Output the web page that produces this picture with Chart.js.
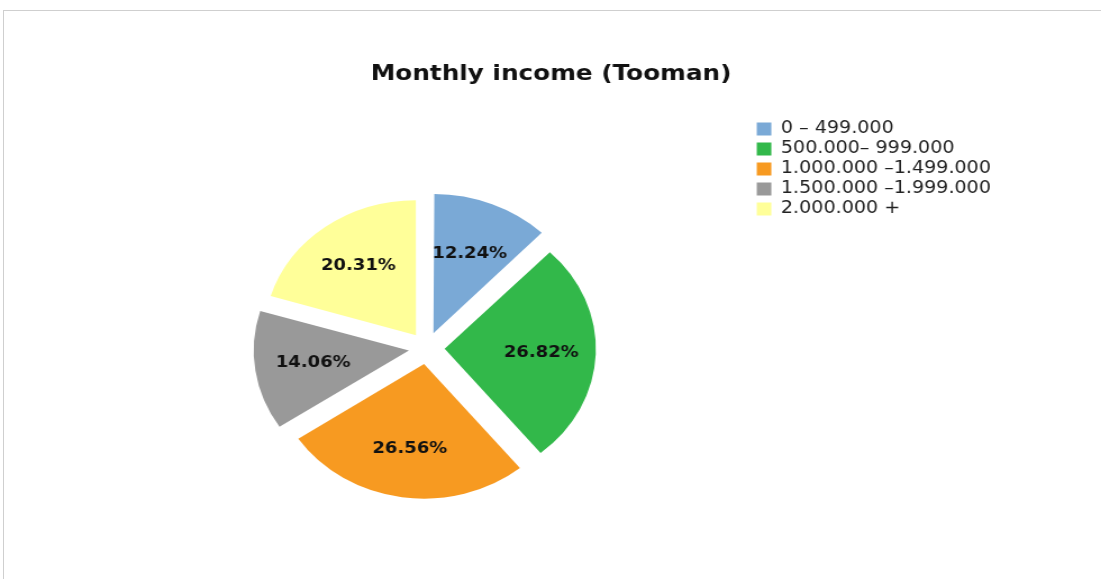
<!DOCTYPE html>
<html>
<head>
<meta charset="utf-8">
<script src="https://cdn.jsdelivr.net/npm/chart.js@4"></script>
<style>
    html, body { margin: 0; padding: 0; background: #ffffff; overflow: hidden; }
    #frame { position: absolute; left: 3px; top: 10px; width: 1200px; height: 700px; border-top: 1px solid #cfcfcf; border-left: 1px solid #cfcfcf; }
    #wrap { position: absolute; left: 0; top: 0; width: 980px; height: 579px; transform: scaleX(1.1235); transform-origin: 0 0; }
</style>
</head>
<body>
<div id="frame"></div>
<div id="wrap"><canvas id="income-pie"></canvas></div>
<script>
var incomeGroups = ['0 – 499.000', '500.000– 999.000', '1.000.000 –1.499.000', '1.500.000 –1.999.000', '2.000.000 +'];
var incomeShares = [12.24, 26.82, 26.56, 14.06, 20.31];
var sliceColors = ['#7aa9d6', '#32b84a', '#f79a21', '#999999', '#ffff99'];

// percentage text inside each slice
var sliceLabels = {
    id: 'sliceLabels',
    afterDatasetsDraw: function (chart) {
        var ctx = chart.ctx;
        var meta = chart.getDatasetMeta(0);
        ctx.save();
        ctx.font = 'bold 16px "DejaVu Sans"';
        ctx.fillStyle = '#111111';
        ctx.textAlign = 'center';
        ctx.textBaseline = 'middle';
        meta.data.forEach(function (arc, i) {
            var p = arc.getProps(['x', 'y', 'startAngle', 'endAngle', 'outerRadius'], true);
            var mid = (p.startAngle + p.endAngle) / 2;
            // arc offset is drawn at a quarter of the option value
            var dist = arc.options.offset / 4 + p.outerRadius * 0.64;
            ctx.fillText(incomeShares[i].toFixed(2) + '%', p.x + Math.cos(mid) * dist, p.y + Math.sin(mid) * dist);
        });
        ctx.restore();
    }
};

var incomeContext = document.getElementById('income-pie').getContext('2d');
var incomeChart = new Chart(incomeContext, {
    type: 'pie',
    data: {
        labels: incomeGroups,
        datasets: [
            {
                data: incomeShares,
                backgroundColor: sliceColors,
                borderWidth: 0,
                offset: 64,
                hoverOffset: 0,
                radius: 134.5
            }]
    },
    options: {
        responsive: true,
        maintainAspectRatio: false,
        animation: false,
        events: [],
        layout: { padding: { top: 0, bottom: 0, left: 89, right: 88 } },
        plugins: {
            title: {
                display: true,
                text: 'Monthly income (Tooman)',
                color: '#111111',
                font: { family: '"DejaVu Sans"', size: 22, weight: 'bold', lineHeight: 1.2 },
                padding: { top: 61, bottom: 30 }
            },
            legend: {
                position: 'right',
                align: 'start',
                fullSize: false,
                labels: {
                    color: '#222222',
                    font: { family: '"DejaVu Sans"', size: 17, lineHeight: 1 },
                    boxWidth: 13,
                    boxHeight: 13,
                    padding: 3
                }
            },
            tooltip: { enabled: false }
        }
    },
    plugins: [sliceLabels]
});
</script>
</body>
</html>
